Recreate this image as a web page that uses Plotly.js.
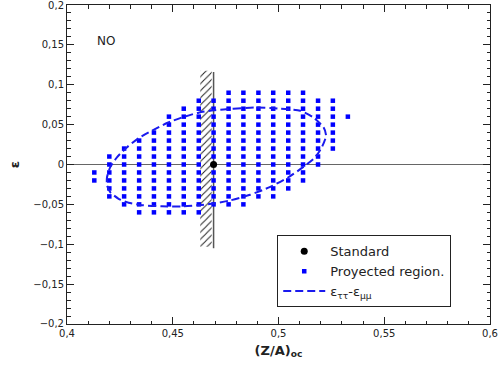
<!DOCTYPE html>
<html>
<head>
<meta charset="utf-8">
<script src="https://cdn.plot.ly/plotly-3.0.1.min.js"></script>
<style>html,body{margin:0;padding:0;background:#fff;}#chart{width:503px;height:370px;}</style>
</head>
<body>
<div id="chart"></div>
<script>
// ---- Data ----
const standardX = [0.4693];
const standardY = [0];

// Projected-region grid: one x per column, and the y values in each column
const regionColX = [0.4129, 0.4200, 0.4270, 0.4341, 0.4411, 0.4482, 0.4552, 0.4623, 0.4693,
                    0.4764, 0.4834, 0.4905, 0.4975, 0.5046, 0.5116, 0.5187, 0.5257, 0.5328];
const regionColY = [
  [-0.02, -0.01],
  [-0.04, -0.03, -0.02, -0.01, 0, 0.01],
  [-0.05, -0.04, -0.03, -0.02, -0.01, 0, 0.01, 0.02],
  [-0.06, -0.05, -0.04, -0.03, -0.02, -0.01, 0, 0.01, 0.02, 0.03],
  [-0.06, -0.05, -0.04, -0.03, -0.02, -0.01, 0, 0.01, 0.02, 0.03, 0.04],
  [-0.06, -0.05, -0.04, -0.03, -0.02, -0.01, 0, 0.01, 0.02, 0.03, 0.04, 0.05, 0.06],
  [-0.06, -0.05, -0.04, -0.03, -0.02, -0.01, 0, 0.01, 0.02, 0.03, 0.04, 0.05, 0.06, 0.07],
  [-0.06, -0.05, -0.04, -0.03, -0.02, -0.01, 0, 0.01, 0.02, 0.03, 0.04, 0.05, 0.06, 0.07, 0.08],
  [-0.05, -0.04, -0.03, -0.02, -0.01, 0, 0.01, 0.02, 0.03, 0.04, 0.05, 0.06, 0.07, 0.08],
  [-0.05, -0.04, -0.03, -0.02, -0.01, 0, 0.01, 0.02, 0.03, 0.04, 0.05, 0.06, 0.07, 0.08, 0.09],
  [-0.05, -0.04, -0.03, -0.02, -0.01, 0, 0.01, 0.02, 0.03, 0.04, 0.05, 0.06, 0.07, 0.08, 0.09],
  [-0.04, -0.03, -0.02, -0.01, 0, 0.01, 0.02, 0.03, 0.04, 0.05, 0.06, 0.07, 0.08, 0.09],
  [-0.04, -0.03, -0.02, -0.01, 0, 0.01, 0.02, 0.03, 0.04, 0.05, 0.06, 0.07, 0.08, 0.09],
  [-0.03, -0.02, -0.01, 0, 0.01, 0.02, 0.03, 0.04, 0.05, 0.06, 0.07, 0.08, 0.09],
  [-0.02, -0.01, 0, 0.01, 0.02, 0.03, 0.04, 0.05, 0.06, 0.07, 0.08, 0.09],
  [0, 0.01, 0.02, 0.03, 0.04, 0.05, 0.06, 0.07, 0.08],
  [0.02, 0.03, 0.04, 0.05, 0.06, 0.07, 0.08],
  [0.06]
];

// Dashed contour (eps_tautau - eps_mumu)
const contourX = [0.4693, 0.4787, 0.4898, 0.5008, 0.5103, 0.5165, 0.5213, 0.5225, 0.5205, 0.5173,
                  0.5118, 0.5047, 0.4961, 0.4866, 0.4772, 0.4693, 0.4622, 0.4543, 0.4449, 0.4354,
                  0.4291, 0.4244, 0.4205, 0.4189, 0.4189, 0.4205, 0.4236, 0.4284, 0.4338, 0.4402,
                  0.4473, 0.4543, 0.4622, 0.4693];
const contourY = [0.068, 0.070, 0.0716, 0.070, 0.0675, 0.059, 0.0466, 0.036, 0.0217, 0.009,
                  -0.003, -0.016, -0.028, -0.038, -0.045, -0.049, -0.051, -0.0525, -0.0525, -0.051,
                  -0.048, -0.043, -0.035, -0.026, -0.016, -0.003, 0.009, 0.0217, 0.033, 0.0425,
                  0.052, 0.059, 0.065, 0.068];

// Excluded band (hatched) and the vertical reference line
const bandX = [0.4630, 0.4684, 0.4684, 0.4630, 0.4630];
const bandY = [-0.103, -0.103, 0.1175, 0.1175, -0.103];
const refLineX = [0.4693, 0.4693];
const refLineY = [-0.105, 0.116];

const xTickVals = [0.4, 0.45, 0.5, 0.55, 0.6];
const yTickVals = [-0.2, -0.15, -0.1, -0.05, 0, 0.05, 0.1, 0.15, 0.2];
const xRange = [0.39999, 0.60001];
const yRange = [-0.20002, 0.20002];

// ---- Build grid point lists ----
const regionX = [], regionY = [];
regionColX.forEach((x, i) => regionColY[i].forEach(y => { regionX.push(x); regionY.push(y); }));

const FONT = 'DejaVu Sans, Arial, sans-serif';

const traces = [
  {
    x: bandX, y: bandY, mode: 'lines', fill: 'toself',
    fillcolor: 'white',
    fillpattern: {shape: '/', fgcolor: '#222', bgcolor: 'white', size: 5, solidity: 0.2},
    line: {width: 0}, showlegend: false, hoverinfo: 'skip'
  },
  {
    x: refLineX, y: refLineY, mode: 'lines',
    line: {color: '#555', width: 1.5}, showlegend: false, hoverinfo: 'skip'
  },
  {
    x: regionX, y: regionY, mode: 'markers', name: 'Proyected region.',
    marker: {symbol: 'square', size: 4.5, color: '#0000ff'}, legendrank: 2
  },
  {
    x: contourX, y: contourY, mode: 'lines', name: 'ε<sub>ττ</sub>-ε<sub>μμ</sub>',
    line: {color: '#1a1aee', width: 2, dash: '8px,4px', shape: 'spline', smoothing: 0.6},
    legendrank: 3
  },
  {
    x: standardX, y: standardY, mode: 'markers', name: 'Standard',
    marker: {symbol: 'circle', size: 7, color: 'black'}, legendrank: 1
  }
];

const axisCommon = {
  showline: true, linecolor: '#222', linewidth: 1, mirror: 'ticks',
  ticks: 'inside', ticklen: 7, tickcolor: '#222', tickwidth: 1,
  showgrid: false, ticklabeloverflow: 'allow',
  tickfont: {family: FONT, size: 10, color: '#222'}
};

const layout = {
  width: 503, height: 370,
  margin: {l: 67, r: 13, t: 5, b: 46},
  paper_bgcolor: 'white', plot_bgcolor: 'white',
  separators: ',.',
  font: {family: FONT, color: '#222'},
  showlegend: true,
  legend: {
    x: 0.497, y: 0.278, xanchor: 'left', yanchor: 'top',
    bgcolor: 'white', bordercolor: '#222', borderwidth: 1,
    font: {family: FONT, size: 13, color: '#222'},
    itemwidth: 42, tracegroupgap: 0
  },
  xaxis: Object.assign({}, axisCommon, {
    range: xRange, tickmode: 'array', tickvals: xTickVals, zeroline: false,
    minor: {dtick: 0.01, tick0: 0.4, ticks: 'inside', ticklen: 3.5, tickcolor: '#222', showgrid: false},
    title: {text: '<b>(Z/A)<sub>oc</sub></b>', font: {family: FONT, size: 13, color: '#222'}, standoff: 7}
  }),
  yaxis: Object.assign({}, axisCommon, {
    range: yRange, tickmode: 'array', tickvals: yTickVals,
    zeroline: true, zerolinecolor: '#666', zerolinewidth: 1.5,
    minor: {dtick: 0.01, tick0: 0, ticks: 'inside', ticklen: 3.5, tickcolor: '#222', showgrid: false},
    title: {text: '<b>ε</b>', font: {family: FONT, size: 13, color: '#222'}, standoff: 10}
  }),
  annotations: [{
    x: 0.4186, y: 0.155, xref: 'x', yref: 'y', text: 'NO', showarrow: false,
    font: {family: FONT, size: 12, color: '#222'}
  }]
};

Plotly.newPlot('chart', traces, layout, {displayModeBar: false, staticPlot: true});
</script>
</body>
</html>
